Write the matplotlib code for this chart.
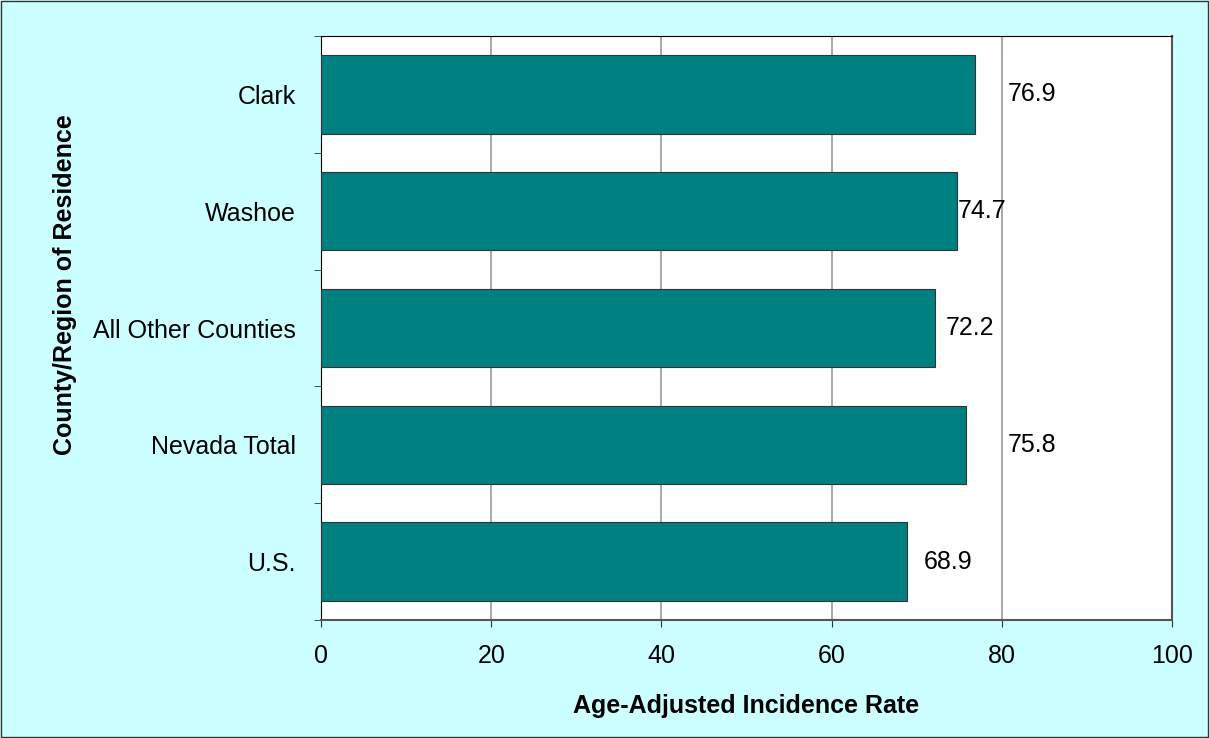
import numpy as np
import matplotlib.pyplot as plt
from matplotlib.patches import Rectangle

plt.rcParams['font.family'] = ['Liberation Sans', 'DejaVu Sans']

categories = ["Clark", "Washoe", "All Other Counties", "Nevada Total", "U.S."]
rates = [76.9, 74.7, 72.2, 75.8, 68.9]
# label offsets (points) to mimic where the original placed the values
label_offsets = [23, 0.5, 7.5, 30, 11.5]

fig = plt.figure(figsize=(12.09, 7.38), dpi=100, facecolor="#CCFFFF")
fig.patches.append(Rectangle((0.001, 0.001), 0.998, 0.997, transform=fig.transFigure,
                             fill=False, edgecolor="#333333", linewidth=1.0))
ax = fig.add_axes([0.2655, 0.1599, 0.7039, 0.7913])
ax.set_facecolor("white")

ind = np.arange(len(categories))
bars = ax.barh(ind, rates, height=0.67, color="#008080", edgecolor="#333333",
               linewidth=0.8, zorder=3)

for rect, val, off in zip(bars, rates, label_offsets):
    ax.annotate("%.1f" % val, (rect.get_width(), rect.get_y() + rect.get_height() / 2),
                xytext=(off, 0), textcoords="offset points", ha="left", va="center",
                fontsize=18)

ax.set_xlim(0, 100)
ax.set_ylim(len(categories) - 0.5, -0.5)
ax.set_xticks(np.arange(0, 101, 20))
ax.tick_params(axis="x", labelsize=18, length=5, direction="out", pad=12, color="#333333")
ax.xaxis.grid(True, color="#999999", linewidth=1.2, zorder=0)

ax.set_yticks(ind)
ax.set_yticklabels(categories, fontsize=18)
ax.tick_params(axis="y", length=0, pad=18)
ax.set_yticks(np.arange(-0.5, len(categories)), minor=True)
ax.tick_params(axis="y", which="minor", length=5, direction="out", color="#333333")

for side in ["left", "top"]:
    ax.spines[side].set_color("black")
for side in ["right", "bottom"]:
    ax.spines[side].set_color("#555555")
    ax.spines[side].set_linewidth(1.5)

ax.set_xlabel("Age-Adjusted Incidence Rate", fontsize=18, fontweight="bold")
ax.set_ylabel("County/Region of Residence", fontsize=18, fontweight="bold")
ax.xaxis.set_label_coords(0.5, -0.126)
ax.yaxis.set_label_coords(-0.287, 0.574)

fig.savefig("out.png", dpi=100, facecolor=fig.get_facecolor())
